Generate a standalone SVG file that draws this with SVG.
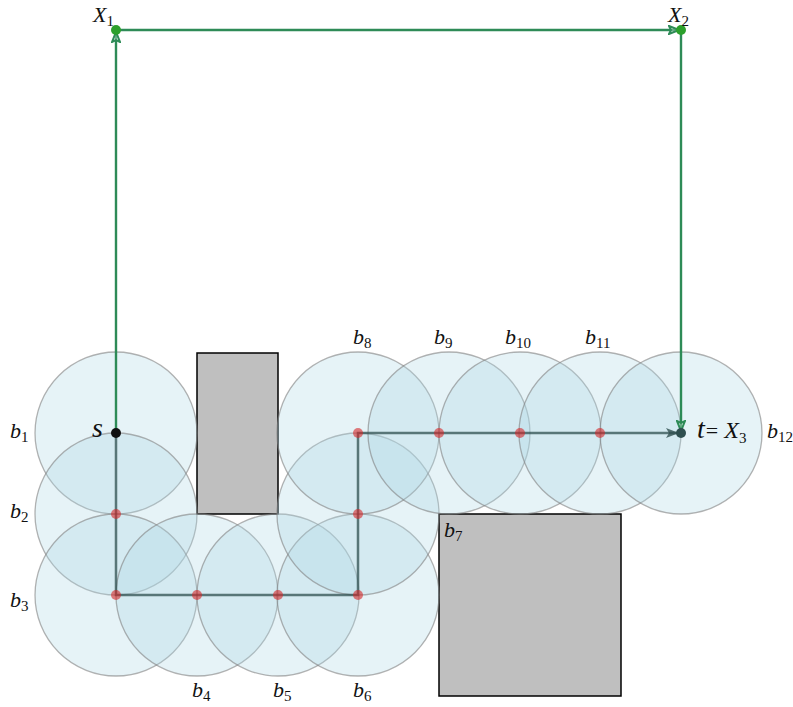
<svg xmlns="http://www.w3.org/2000/svg" width="793" height="707" viewBox="0 0 793 707">
<style>
.ball{fill:#add8e6;fill-opacity:0.3;stroke:#808080;stroke-opacity:0.6;stroke-width:1.3}
.obs{fill:#bfbfbf;stroke:#000;stroke-width:1.5}
.lbl{font-family:"Liberation Serif","DejaVu Serif",serif;font-style:italic;font-size:22px;fill:#111}
.sub{font-size:15px;font-style:normal}
.path{fill:none;stroke:#2f4f4f;stroke-opacity:0.75;stroke-width:2.5}
.green{fill:none;stroke:#2e8b57;stroke-width:2.4}
.wp{fill:#d62728;fill-opacity:0.6}
</style>
<defs>
<marker id="ga" viewBox="0 0 12 10" refX="11" refY="5" markerWidth="12" markerHeight="10" markerUnits="userSpaceOnUse" orient="auto">
<path d="M1,1 L11,5 L1,9 L3,5 Z" fill="#fff" fill-opacity="0.3" stroke="#2e8b57" stroke-width="2"/>
</marker>
<marker id="da" viewBox="0 0 14 10" refX="13" refY="5" markerWidth="14" markerHeight="10" markerUnits="userSpaceOnUse" orient="auto">
<path d="M0,0 L13,5 L0,10 L3,5 Z" fill="#2f4f4f" fill-opacity="0.8"/>
</marker>
</defs>
<rect width="793" height="707" fill="#fff"/>
<g id="obstacles">
<rect id="obstacle1" class="obs" x="197" y="353" width="81" height="161"/>
<rect id="obstacle2" class="obs" x="439" y="514" width="182" height="182"/>
</g>
<g id="balls">
<circle id="b1" class="ball" cx="116" cy="433" r="81"/>
<circle id="b2" class="ball" cx="116" cy="514" r="81"/>
<circle id="b3" class="ball" cx="116" cy="595" r="81"/>
<circle id="b4" class="ball" cx="197" cy="595" r="81"/>
<circle id="b5" class="ball" cx="278" cy="595" r="81"/>
<circle id="b6" class="ball" cx="358" cy="595" r="81"/>
<circle id="b7" class="ball" cx="358" cy="514" r="81"/>
<circle id="b8" class="ball" cx="358" cy="433" r="81"/>
<circle id="b9" class="ball" cx="449" cy="433" r="81"/>
<circle id="b10" class="ball" cx="520" cy="433" r="81"/>
<circle id="b11" class="ball" cx="600" cy="433" r="81"/>
<circle id="b12" class="ball" cx="681" cy="433" r="81"/>
</g>
<g id="connectors">
<path class="path" d="M116,433 L116,595 L358,595 L358,433 L679,433" marker-end="url(#da)"/>
<path class="green" d="M116,433 L116,32" marker-end="url(#ga)"/>
<path class="green" d="M116,30 L679,30" marker-end="url(#ga)"/>
<path class="green" d="M681,30 L681,431" marker-end="url(#ga)"/>
</g>
<g id="waypoints">
<circle class="wp" cx="116" cy="514" r="5"/>
<circle class="wp" cx="116" cy="595" r="5"/>
<circle class="wp" cx="197" cy="595" r="5"/>
<circle class="wp" cx="278" cy="595" r="5"/>
<circle class="wp" cx="358" cy="595" r="5"/>
<circle class="wp" cx="358" cy="514" r="5"/>
<circle class="wp" cx="358" cy="433" r="5"/>
<circle class="wp" cx="439" cy="433" r="5"/>
<circle class="wp" cx="520" cy="433" r="5"/>
<circle class="wp" cx="600" cy="433" r="5"/>
</g>
<g id="node-s"><circle cx="116" cy="433" r="5" fill="#111"/><text class="lbl" x="92" y="437" style="font-size:28px">s</text></g>
<g id="node-t"><circle cx="681" cy="433" r="5" fill="#2f4f4f"/><text class="lbl" x="697" y="438" style="font-size:28px">t<tspan style="font-style:normal;font-size:22px" dx="1">=</tspan><tspan dx="6" style="font-size:24px">X</tspan><tspan class="sub" dy="5">3</tspan></text></g>
<g id="node-X1"><circle cx="116" cy="30" r="5" fill="#2ca02c"/><text class="lbl" x="93" y="22">X<tspan class="sub" dy="4">1</tspan></text></g>
<g id="node-X2"><circle cx="681" cy="30" r="5" fill="#2ca02c"/><text class="lbl" x="668" y="22">X<tspan class="sub" dy="4">2</tspan></text></g>
<g id="labels">
<text class="lbl" x="10" y="438">b<tspan class="sub" dy="4">1</tspan></text>
<text class="lbl" x="10" y="518">b<tspan class="sub" dy="4">2</tspan></text>
<text class="lbl" x="10" y="607">b<tspan class="sub" dy="4">3</tspan></text>
<text class="lbl" x="192" y="697">b<tspan class="sub" dy="4">4</tspan></text>
<text class="lbl" x="273" y="697">b<tspan class="sub" dy="4">5</tspan></text>
<text class="lbl" x="353" y="697">b<tspan class="sub" dy="4">6</tspan></text>
<text class="lbl" x="444" y="537">b<tspan class="sub" dy="4">7</tspan></text>
<text class="lbl" x="353" y="344">b<tspan class="sub" dy="4">8</tspan></text>
<text class="lbl" x="434" y="344">b<tspan class="sub" dy="4">9</tspan></text>
<text class="lbl" x="505" y="344">b<tspan class="sub" dy="4">10</tspan></text>
<text class="lbl" x="585" y="344">b<tspan class="sub" dy="4">11</tspan></text>
<text class="lbl" x="767" y="438">b<tspan class="sub" dy="4">12</tspan></text>
</g>
</svg>
